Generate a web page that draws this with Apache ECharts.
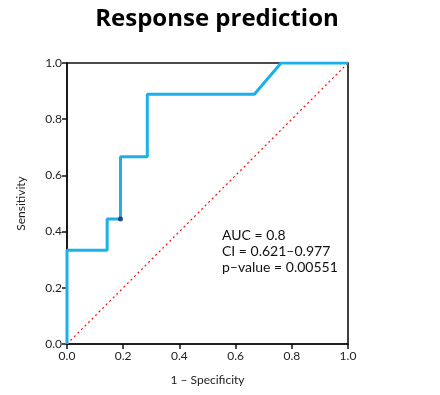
<!DOCTYPE html>
<html><head><meta charset="utf-8">
<script src="https://cdn.jsdelivr.net/npm/echarts@6/dist/echarts.min.js"></script>
<style>html,body{margin:0;padding:0;background:#fff}#c{width:440px;height:395px}</style>
</head><body><div id="c"></div>
<script>
const rocFpr = [0, 0, 0.1429, 0.1429, 0.1905, 0.1905, 0.2857, 0.2857, 0.6667, 0.7619, 1.0];
const rocTpr = [0, 0.3333, 0.3333, 0.4444, 0.4444, 0.6667, 0.6667, 0.8889, 0.8889, 1.0, 1.0];
const markerPoint = [0.1905, 0.4444];
const diagonal = [[0, 0], [1, 1]];
const statLines = ['AUC = 0.8', 'CI = 0.621\u20130.977', 'p\u2013value = 0.00551'];
const titleText = 'Response prediction';
const xName = '1 \u2013 Specificity';
const yName = 'Sensitivity';

const font = 'Lato, "Open Sans", sans-serif';
const chart = echarts.init(document.getElementById('c'), null, {renderer: 'canvas'});
const axisCommon = {
  type: 'value', min: 0, max: 1, interval: 0.2,
  axisLine: {show: true, lineStyle: {color: '#111', width: 1.6}},
  axisTick: {show: true, length: 5, lineStyle: {color: '#111', width: 1.5}},
  splitLine: {show: false},
  axisLabel: {color: '#222', fontSize: 12, fontFamily: font, formatter: v => v.toFixed(1)},
  nameTextStyle: {color: '#222', fontSize: 12, fontFamily: font}
};
chart.setOption({
  animation: false,
  title: {text: titleText, left: 212, top: 2, textAlign: 'center',
    textStyle: {fontSize: 24, fontWeight: 'bold', fontFamily: '"Open Sans", sans-serif', color: '#000'}},
  grid: {left: 67, right: 92, top: 63, bottom: 51, show: true, borderColor: '#111', borderWidth: 1.6, backgroundColor: 'transparent'},
  xAxis: Object.assign({}, axisCommon, {name: xName, nameLocation: 'middle', nameGap: 30,
    axisLabel: Object.assign({}, axisCommon.axisLabel, {margin: 6})}),
  yAxis: Object.assign({}, axisCommon, {name: yName, nameLocation: 'middle', nameGap: 40,
    axisLabel: Object.assign({}, axisCommon.axisLabel, {margin: 5})}),
  series: [
    {type: 'line', data: diagonal, showSymbol: false, silent: true,
      lineStyle: {color: '#ee1111', width: 1.2, type: [2, 3]}, z: 1},
    {type: 'line', data: rocFpr.map((x, i) => [x, rocTpr[i]]), showSymbol: false,
      lineStyle: {color: '#1ab0ea', width: 3}, z: 2},
    {type: 'scatter', data: [markerPoint], symbolSize: 5, itemStyle: {color: '#1a237e'}, z: 3}
  ],
  graphic: [{type: 'text', left: 222, top: 227,
    style: {text: statLines.join('\n'), font: '14px ' + font, fill: '#111', lineHeight: 16}}]
});
</script></body></html>
